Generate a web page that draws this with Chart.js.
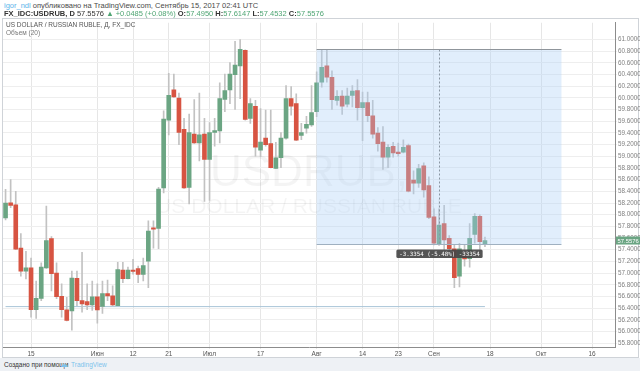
<!DOCTYPE html>
<html>
<head>
<meta charset="utf-8">
<script src="https://cdn.jsdelivr.net/npm/chart.js@4.4.0/dist/chart.umd.min.js"></script>
<style>
  body { margin: 0; width: 640px; height: 371px; overflow: hidden; background: #fff; font-family: 'Liberation Sans', Arial, sans-serif; position: relative; }
  #hdr1, #hdr2, #ttl1, #ttl2, #foot { position: absolute; white-space: nowrap; z-index: 2; }
  #hdr1 { left: 4px; top: 1px; font-size: 7.5px; color: #4a4a4a; }
  #hdr2 { left: 4px; top: 9px; font-size: 7.5px; color: #333; }
  .lnk { color: #5db4ea; }
  .g { color: #4fa574; }
  #pane { position: absolute; left: 2px; top: 18px; width: 637px; height: 340px; border: 1px solid #cfd3d8; box-sizing: border-box; }
  #chart { position: absolute; left: 0; top: 18px; }
  #ttl1 { left: 6px; top: 21px; font-size: 6.5px; color: #555; }
  #ttl2 { left: 6px; top: 29px; font-size: 6.5px; color: #777; }
  #foot { left: 0; top: 358px; width: 640px; height: 13px; background: #eef1f5; font-size: 6.5px; color: #333; }
  #foot span.t { position: absolute; left: 4px; top: 3px; }
  #foot span.l { position: absolute; left: 60px; top: 2px; color: #7cc3ec; font-size: 8px; }
  #foot span.n { position: absolute; left: 71px; top: 3px; color: #7cc3ec; }
</style>
</head>
<body>
<div id="hdr1"><span class="lnk">igor_ndl</span> опубликовано на TradingView.com, Сентябрь 15, 2017 02:41 UTC</div>
<div id="hdr2"><b>FX_IDC:USDRUB, D</b> 57.5576 <span class="g">▲ +0.0485 (+0.08%)</span> <b>O:</b><span class="g">57.4950</span> <b>H:</b><span class="g">57.6147</span> <b>L:</b><span class="g">57.4532</span> <b>C:</b><span class="g">57.5576</span></div>
<div id="pane"></div>
<canvas id="chart" width="640" height="340"></canvas>
<div id="ttl1">US DOLLAR / RUSSIAN RUBLE, Д, FX_IDC</div>
<div id="ttl2">Объем (20)</div>
<div id="foot"><span class="t">Создано при помощи</span><span class="l">☁</span><span class="n">TradingView</span></div>
<script>
  // Торговые дни (месяц-день), 2017
  const dates = [
    '05-08','05-09','05-10','05-11','05-12','05-15','05-16','05-17','05-18','05-19',
    '05-22','05-23','05-24','05-25','05-26','05-29','05-30','05-31','06-01','06-02',
    '06-05','06-06','06-07','06-08','06-09','06-12','06-13','06-14','06-15','06-16',
    '06-19','06-20','06-21','06-22','06-23','06-26','06-27','06-28','06-29','06-30',
    '07-03','07-04','07-05','07-06','07-07','07-10','07-11','07-12','07-13','07-14',
    '07-17','07-18','07-19','07-20','07-21','07-24','07-25','07-26','07-27','07-28',
    '07-31','08-01','08-02','08-03','08-04','08-07','08-08','08-09','08-10','08-11',
    '08-14','08-15','08-16','08-17','08-18','08-21','08-22','08-23','08-24','08-25',
    '08-28','08-29','08-30','08-31','09-01','09-04','09-05','09-06','09-07','09-08',
    '09-11','09-12','09-13','09-14','09-15','09-18','09-19','09-20','09-21','09-22',
    '09-25','09-26','09-27','09-28','09-29','10-02','10-03','10-04','10-05','10-06',
    '10-09','10-10','10-11','10-12','10-13','10-16','10-17','10-18','10-19','10-20'
  ];

  // Подписи оси времени
  const tickDates = ['05-15','06-01','06-12','06-21','07-03','07-17','08-01','08-14','08-23','09-01','09-18','10-02','10-16'];
  const tickText = ['15','Июн','12','21','Июл','17','Авг','14','23','Сен','18','Окт','16'];

  // Подписи оси цены
  const yTicks = [55.8, 56.0, 56.2, 56.4, 56.6, 56.8, 57.0, 57.2, 57.4, 57.6, 57.8, 58.0, 58.2, 58.4,
    58.6, 58.8, 59.0, 59.2, 59.4, 59.6, 59.8, 60.0, 60.2, 60.4, 60.6, 60.8, 61.0];

  // Свечи USDRUB (O, H, L, C)
  const opens = [
    57.945, 58.203, 58.170, 57.427, 57.034, 57.089, 56.375, 56.566, 57.089, 57.591,
    57.000, 56.600, 56.370, 56.350, 56.911, 56.527, 56.510, 56.455, 56.595, 56.431,
    56.651, 56.612, 56.443, 57.051, 56.904, 57.051, 57.079, 56.978, 57.202, 57.776,
    57.764, 58.457, 59.621, 60.139, 59.999, 59.464, 58.468, 59.380, 59.228, 59.380,
    58.946, 59.408, 59.435, 59.976, 60.139, 60.397, 60.549, 60.814, 59.650, 59.857,
    59.105, 59.312, 59.216, 58.794, 58.975, 59.312, 59.987, 59.903, 59.358, 59.481,
    59.537, 59.763, 60.269, 60.549, 60.354, 59.959, 60.033, 59.891, 60.043, 60.127,
    59.835, 59.920, 59.695, 59.397, 59.245, 58.986, 59.172, 59.071, 59.071, 59.182,
    58.592, 58.541, 58.835, 58.497, 57.962, 57.494, 57.849, 57.596, 57.417, 56.949,
    57.299, 57.248, 57.663, 57.974, 57.4950
  ];
  const highs = [
    58.435, 58.603, 58.401, 57.675, 57.371, 57.258, 56.865, 57.174, 58.148, 57.624,
    57.174, 56.814, 56.583, 57.034, 57.034, 57.354, 56.814, 56.865, 56.814, 56.865,
    56.882, 56.780, 57.186, 57.186, 57.101, 57.236, 57.118, 57.258, 57.894, 57.894,
    58.468, 59.780, 60.421, 60.409, 60.084, 59.650, 59.722, 59.970, 60.084, 59.650,
    59.577, 59.650, 60.257, 60.409, 60.607, 60.971, 61.000, 60.825, 59.987, 59.959,
    59.819, 59.790, 59.790, 59.240, 59.408, 60.212, 60.195, 60.072, 59.565, 59.684,
    60.212, 60.448, 60.831, 60.831, 60.465, 60.127, 60.127, 60.168, 60.212, 60.313,
    60.100, 60.100, 59.959, 59.493, 59.510, 59.199, 59.240, 59.228, 59.284, 59.210,
    58.750, 58.862, 58.890, 58.649, 58.102, 58.102, 58.159, 57.641, 57.494, 57.511,
    57.494, 57.849, 58.018, 57.996, 57.6147
  ];
  const lows = [
    57.911, 58.119, 57.400, 56.949, 56.899, 56.245, 56.224, 56.527, 57.080, 56.696,
    56.561, 56.245, 56.180, 56.021, 56.443, 56.330, 56.375, 56.359, 56.144, 56.308,
    56.527, 56.443, 56.440, 56.836, 56.899, 56.983, 56.836, 56.865, 56.752, 57.427,
    57.417, 58.372, 59.368, 60.010, 59.199, 58.450, 58.186, 59.220, 58.919, 58.227,
    58.244, 59.172, 59.228, 59.763, 59.903, 59.802, 59.987, 59.620, 59.565, 59.003,
    58.992, 59.172, 58.800, 58.790, 58.806, 59.295, 59.705, 59.270, 59.284, 59.397,
    59.510, 59.678, 60.185, 60.269, 59.802, 59.874, 59.717, 59.847, 59.847, 59.621,
    59.267, 59.594, 59.312, 59.088, 58.777, 58.806, 58.986, 59.003, 59.060, 58.390,
    58.355, 58.468, 58.300, 57.933, 57.484, 57.473, 57.400, 57.371, 56.752, 56.764,
    57.118, 57.101, 57.511, 57.371, 57.4532
  ];
  const closes = [
    58.198, 58.159, 57.410, 57.034, 57.089, 56.375, 56.566, 57.101, 57.557, 56.988,
    56.595, 56.375, 56.190, 56.916, 56.527, 56.472, 56.455, 56.595, 56.370, 56.651,
    56.607, 56.455, 57.062, 56.904, 57.051, 57.029, 56.978, 57.130, 57.721, 57.754,
    58.440, 59.638, 60.043, 60.016, 59.408, 58.457, 59.408, 59.228, 59.368, 58.946,
    59.408, 59.442, 59.987, 60.127, 60.409, 60.561, 60.831, 59.633, 59.903, 59.155,
    59.245, 59.199, 58.806, 58.975, 59.312, 59.987, 59.857, 59.278, 59.408, 59.548,
    59.751, 60.257, 60.522, 60.354, 59.970, 60.026, 59.857, 60.033, 60.117, 59.835,
    59.920, 59.695, 59.380, 59.216, 58.986, 59.155, 59.059, 59.047, 59.155, 58.401,
    58.541, 58.789, 58.423, 57.953, 57.511, 57.822, 57.569, 57.417, 56.921, 57.417,
    57.241, 57.596, 57.974, 57.540, 57.5576
  ];

  // Горизонтальная линия и измерение диапазона
  const trendLevel = 56.426;
  const trendFrom = '05-08', trendTo = '09-15';
  const rangeFrom = '08-01', rangeTo = '10-06', rangeMid = '09-04';
  const rangeHigh = 60.831, rangeLow = 57.4956;
  const rangeText = '-3.3354 (-5.48%) -33354';
  const watermark = ['USDRUB,', 'US DOLLAR / RUSSIAN RUBLE'];

  const UP = '#6ba583', DOWN = '#d75442';
  const FONT = "'Liberation Sans', Arial, sans-serif";

  const bodies = opens.map((o, i) => [o, closes[i]]);
  const wicks = lows.map((l, i) => [l, highs[i]]);
  const bodyColors = opens.map((o, i) => closes[i] >= o ? UP : DOWN);

  const overlay = {
    id: 'overlay',
    beforeDatasetsDraw(chart) {
      const ctx = chart.ctx, a = chart.chartArea;
      const cx = (a.left + a.right) / 2;
      ctx.save();
      ctx.fillStyle = 'rgba(0,0,0,0.045)';
      ctx.textAlign = 'center';
      ctx.font = '44px ' + FONT;
      ctx.fillText(watermark[0], cx, 168);
      ctx.font = '21px ' + FONT;
      ctx.fillText(watermark[1], cx, 195);
      ctx.restore();
    },
    afterDatasetsDraw(chart) {
      const ctx = chart.ctx, xs = chart.scales.x, ys = chart.scales.y;
      const x1 = xs.getPixelForValue(dates.indexOf(rangeFrom));
      const x2 = xs.getPixelForValue(dates.indexOf(rangeTo));
      const xm = Math.round(xs.getPixelForValue(dates.indexOf(rangeMid))) + 0.5;
      const y1 = Math.round(ys.getPixelForValue(rangeHigh)) + 0.5;
      const y2 = Math.round(ys.getPixelForValue(rangeLow)) + 0.5;
      ctx.save();
      ctx.fillStyle = 'rgba(170,205,245,0.35)';
      ctx.fillRect(x1, y1, x2 - x1, y2 - y1);
      ctx.lineWidth = 1;
      ctx.strokeStyle = '#8f959b';
      ctx.beginPath(); ctx.moveTo(x1, y1); ctx.lineTo(x2, y1); ctx.stroke();
      ctx.strokeStyle = '#9fb0c0';
      ctx.beginPath(); ctx.moveTo(x1, y2); ctx.lineTo(x2, y2); ctx.stroke();
      ctx.setLineDash([2, 2]);
      ctx.strokeStyle = '#8a96a3';
      ctx.beginPath(); ctx.moveTo(xm, y1); ctx.lineTo(xm, y2); ctx.stroke();
      ctx.setLineDash([]);
      // подпись измерения
      ctx.font = "5.8px 'DejaVu Sans Mono', monospace";
      const w = ctx.measureText(rangeText).width + 6;
      ctx.fillStyle = 'rgba(70,70,70,0.92)';
      ctx.beginPath();
      ctx.roundRect(xm - w / 2, y2 + 5, w, 8.5, 1.5);
      ctx.fill();
      ctx.fillStyle = '#fff';
      ctx.textAlign = 'center';
      ctx.textBaseline = 'middle';
      ctx.fillText(rangeText, xm, y2 + 9.5);
      ctx.restore();
    },
    afterDraw(chart) {
      const ctx = chart.ctx, ys = chart.scales.y;
      const last = closes[closes.length - 1];
      const y = ys.getPixelForValue(last);
      ctx.save();
      ctx.fillStyle = UP;
      ctx.fillRect(616, y - 4, 24, 8);
      ctx.fillStyle = '#fff';
      ctx.font = '5.9px ' + FONT;
      ctx.textBaseline = 'middle';
      ctx.fillText(last.toFixed(4), 617.5, y + 0.5);
      ctx.restore();
    }
  };

  new Chart(document.getElementById('chart'), {
    type: 'bar',
    data: {
      labels: dates,
      datasets: [
        { label: 'body', data: bodies, backgroundColor: bodyColors, barThickness: 4, minBarLength: 1, grouped: false, order: 1 },
        { label: 'wick', data: wicks, backgroundColor: '#c2c2c2', barThickness: 1, grouped: false, order: 2 },
        { type: 'line', label: 'trend', data: [{ x: trendFrom, y: trendLevel }, { x: trendTo, y: trendLevel }],
          borderColor: '#a9c5d8', borderWidth: 1, pointRadius: 0, order: 3 }
      ]
    },
    options: {
      responsive: false,
      animation: false,
      devicePixelRatio: 1,
      layout: { padding: { left: 3, right: 0, top: 0, bottom: 0 } },
      plugins: { legend: { display: false }, tooltip: { enabled: false } },
      scales: {
        x: {
          offset: true,
          grid: { offset: false, color: '#e6e6e6', tickLength: 2 },
          border: { color: '#8c8c8c' },
          ticks: {
            autoSkip: false, maxRotation: 0, padding: 1, color: '#555',
            font: { size: 6.5, family: FONT },
            callback(v) {
              const i = tickDates.indexOf(this.getLabelForValue(v));
              return i < 0 ? '' : tickText[i];
            }
          },
          afterBuildTicks(s) { s.ticks = s.ticks.filter(t => tickDates.includes(dates[t.value])); },
          afterFit(s) { s.height = 11; }
        },
        y: {
          position: 'right',
          min: 55.734,
          max: 61.287,
          grid: { color: '#eeeeee', tickLength: 2 },
          border: { color: '#8c8c8c' },
          ticks: {
            padding: 1, color: '#808080',
            font: { size: 6.3, family: FONT },
            callback: v => v.toFixed(4)
          },
          afterBuildTicks(s) { s.ticks = yTicks.map(v => ({ value: v })); },
          afterFit(s) { s.width = 25; }
        }
      }
    },
    plugins: [overlay]
  });
</script>
</body>
</html>
